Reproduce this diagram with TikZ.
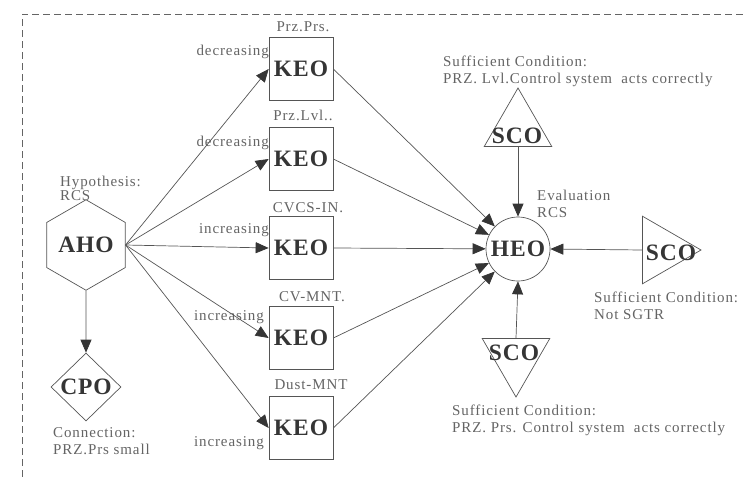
\documentclass[tikz,border=0pt]{standalone}
\usepackage{fontspec}
\setmainfont{Liberation Serif}
\newfontfamily\lblfont[LetterSpace=6]{Liberation Serif}
\newfontfamily\tagfont[LetterSpace=4]{Liberation Serif}
\usepackage{tikz}
\usetikzlibrary{shapes.geometric,arrows.meta}
\definecolor{linegray}{HTML}{555555}
\definecolor{txtgray}{HTML}{646464}
\definecolor{tipgray}{HTML}{353535}
\tikzset{
  lbl/.style={text=txtgray, font=\lblfont\fontsize{15}{17}\selectfont, inner sep=0pt, align=left},
  tag/.style={text=tipgray, font=\tagfont\fontsize{23.5}{25}\selectfont\bfseries, inner sep=0pt},
  keobox/.style={draw=linegray, line width=0.7pt, minimum width=64pt, minimum height=63pt, inner sep=0pt},
  tri/.style={draw=linegray, line width=0.7pt, regular polygon, regular polygon sides=3, minimum size=78pt, inner sep=0pt},
  arr/.style={draw=linegray, line width=0.7pt, -{Triangle[length=13pt,width=11pt,color=tipgray]}}
}

\begin{document}
\begin{tikzpicture}[x=1pt,y=-1pt]
   \useasboundingbox (0,0) rectangle (745,477);
   \draw[txtgray, dash pattern=on 7pt off 4pt] (22,477) -- (22,14) -- (745,14);

   \node[tag, draw=linegray, line width=0.7pt, regular polygon, regular polygon sides=6, shape border rotate=30, minimum size=78pt] (aho) at (86,245) {AHO};
   \node[tag, draw=linegray, line width=0.7pt, diamond, minimum width=70pt, minimum height=68pt, inner sep=-3pt] (cpo) at (86,387) {CPO};
   \foreach \i/\y in {1/69,2/159,3/248,4/338,5/428}
     \node[keobox, tag] (keo\i) at (301,\y) {KEO};
   \node[tag, circle, draw=linegray, line width=0.7pt, minimum size=64pt] (heo) at (518,249) {HEO};

   \node[tri] (scotop) at (518,127) {};
   \node[tri, shape border rotate=180] (scobot) at (516,358) {};
   \node[tri, shape border rotate=-90] (scoright) at (662,250) {};
   \node[tag] (scotoptxt) at (517,136) {SCO};
   \node[tag] (scobottxt) at (514,353) {SCO};
   \node[tag] (scorighttxt) at (671,253) {SCO};

   \node[lbl] (prs) at (303,27) {Prz.Prs.};
   \node[lbl] (lvl) at (303,115) {Prz.Lvl..};
   \node[lbl] (cvcs) at (308,208) {CVCS-IN.};
   \node[lbl] (cvmnt) at (312,297) {CV-MNT.};
   \node[lbl] (dust) at (311,385) {Dust-MNT};
   \node[lbl, anchor=east] (dec1) at (269,52) {decreasing};
   \node[lbl, anchor=east] (dec2) at (269,143) {decreasing};
   \node[lbl, anchor=east] (inc3) at (269,230) {increasing};
   \node[lbl, anchor=east] (inc4) at (264,317) {increasing};
   \node[lbl, anchor=east] (inc5) at (264,443) {increasing};

   \node[lbl, anchor=west] (hyp) at (60,188) {Hypothesis:\\[-3pt]RCS};
   \node[lbl, anchor=west] (conn) at (53,441) {Connection:\\PRZ.Prs small};
   \node[lbl, anchor=west] (eval) at (537,204) {Evaluation\\RCS};
   \node[lbl, anchor=west] (sctop) at (443,71) {Sufficient Condition:\\PRZ. Lvl.Control system\ \ acts correctly};
   \node[lbl, anchor=west] (scright) at (594,306) {Sufficient Condition:\\Not SGTR};
   \node[lbl, anchor=west] (scbot) at (452,420) {Sufficient Condition:\\PRZ. Prs. Control system\ \ acts correctly};

   \foreach \i in {1,...,5} {
     \draw[arr] (aho.east) -- (keo\i.west);
     \draw[arr] (keo\i.east) -- (heo);
   }
   \draw[arr] (aho.south) -- (cpo.north);
   \draw[arr] (scotop.south) -- (heo.north);
   \draw[arr] (scobot.north) -- (heo.south);
   \draw[arr] (scoright.west) -- (heo.east);
\end{tikzpicture}
\end{document}
